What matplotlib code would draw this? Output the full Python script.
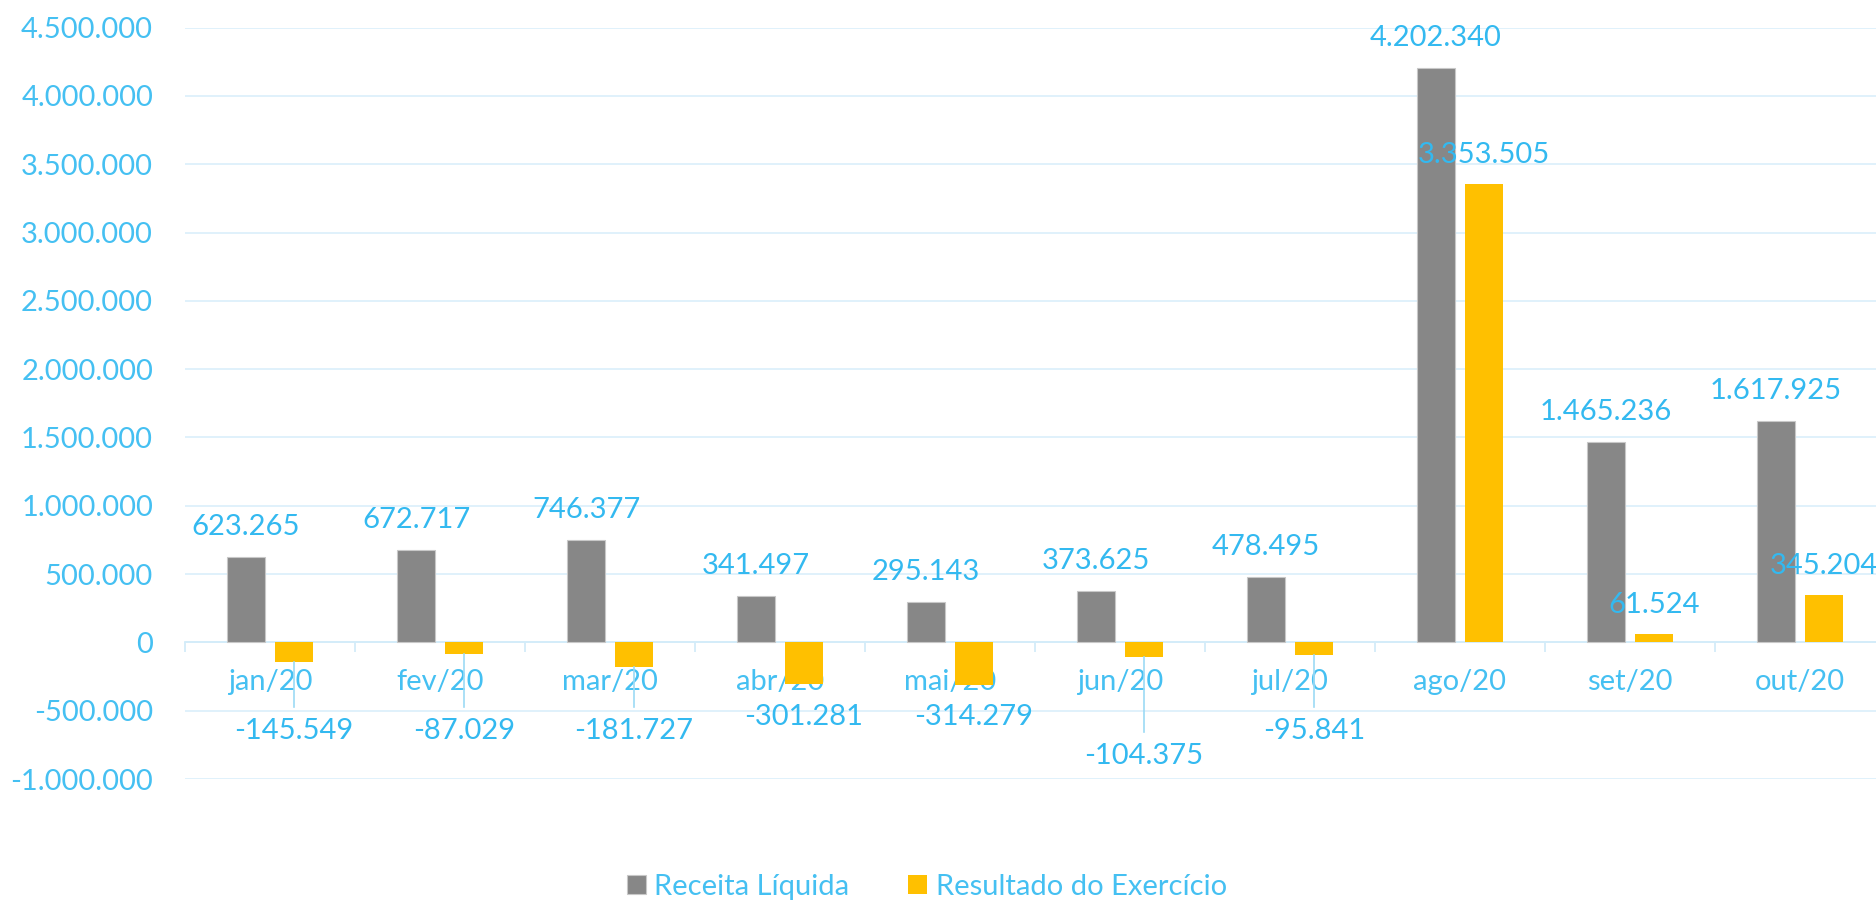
import numpy as np
import matplotlib
matplotlib.use("Agg")
import matplotlib.pyplot as plt

meses = ["jan/20", "fev/20", "mar/20", "abr/20", "mai/20", "jun/20",
         "jul/20", "ago/20", "set/20", "out/20"]
receita = [623265, 672717, 746377, 341497, 295143, 373625, 478495,
           4202340, 1465236, 1617925]
resultado = [-145549, -87029, -181727, -301281, -314279, -104375, -95841,
             3353505, 61524, 345204]
yticks = [-1000000, -500000, 0, 500000, 1000000, 1500000, 2000000,
          2500000, 3000000, 3500000, 4000000, 4500000]

# where the negative labels were dragged to (data units)
neg_label_y = [-651000, -651000, -651000, -546000, -546000, -835000, -651000]

CINZA = "#878787"
AMARELO = "#FFC000"
AZUL = "#45C0F2"
AZUL_TXT = "#33B9F0"
GRADE = "#DDF0FB"

plt.rcParams["font.family"] = ["Lato", "DejaVu Sans"]
FS = 21


def fmt(v):
    return f"{v:,}".replace(",", ".")


fig = plt.figure(figsize=(18.76, 9.01), dpi=100)
ax = fig.add_axes([185 / 1876, 0.1354, 1700 / 1876, 0.8339])

x = np.arange(len(meses))
w = 0.225
off = 0.141
ax.bar(x - off, receita, w, color=CINZA, edgecolor="#C8C8C8", linewidth=0.8,
       zorder=3, label="Receita Líquida")
ax.bar(x + off, resultado, w, color=AMARELO, zorder=3,
       label="Resultado do Exercício")

ax.set_xlim(-0.5, len(meses) - 0.5)
ax.set_ylim(-1000000, 4500000)
ax.set_yticks(yticks)
ax.set_yticklabels([fmt(v) for v in yticks])
ax.yaxis.grid(True, color=GRADE, linewidth=1.3, zorder=0)
ax.tick_params(axis="y", length=0, pad=23, labelsize=FS, labelcolor=AZUL)

ax.spines["bottom"].set_position(("data", 0))
ax.spines["bottom"].set_color("#D3ECF9")
ax.spines["bottom"].set_linewidth(1.3)
for s in ["top", "right", "left"]:
    ax.spines[s].set_visible(False)
ax.set_xticks(x)
ax.set_xticklabels(meses)
ax.set_xticks(np.arange(len(meses) + 1) - 0.5, minor=True)
ax.tick_params(axis="x", which="major", length=0, pad=19, labelsize=FS,
               labelcolor=AZUL)
ax.tick_params(axis="x", which="minor", length=7.5, width=1.3,
               color="#D3ECF9", direction="out")

# labels
for i, v in enumerate(receita):
    ax.annotate(fmt(v), (x[i] - off, v), xytext=(0, 30),
                textcoords="offset pixels", ha="center", va="center",
                fontsize=FS, color=AZUL_TXT, zorder=5)

k = 0
for i, v in enumerate(resultado):
    if v >= 0:
        ax.annotate(fmt(v), (x[i] + off, v), xytext=(0, 29),
                    textcoords="offset pixels", ha="center", va="center",
                    fontsize=FS, color=AZUL_TXT, zorder=5)
    else:
        ly = neg_label_y[k]
        k += 1
        top = ly + 180000
        if v - top > 100000:
            ax.plot([x[i] + off, x[i] + off], [v, top], color="#9CDAF5",
                    linewidth=1.2, zorder=4)
        ax.text(x[i] + off, ly, fmt(v), ha="center", va="center",
                fontsize=FS, color=AZUL_TXT, zorder=5)

leg = fig.legend(loc="lower center", bbox_to_anchor=(0.494, -0.021), ncol=2,
                 frameon=False, fontsize=FS, handlelength=0.65,
                 handleheight=0.65, handletextpad=0.3, columnspacing=2.0,
                 borderaxespad=0.3)
for t in leg.get_texts():
    t.set_color(AZUL)

fig.savefig("out.png", dpi=100)
